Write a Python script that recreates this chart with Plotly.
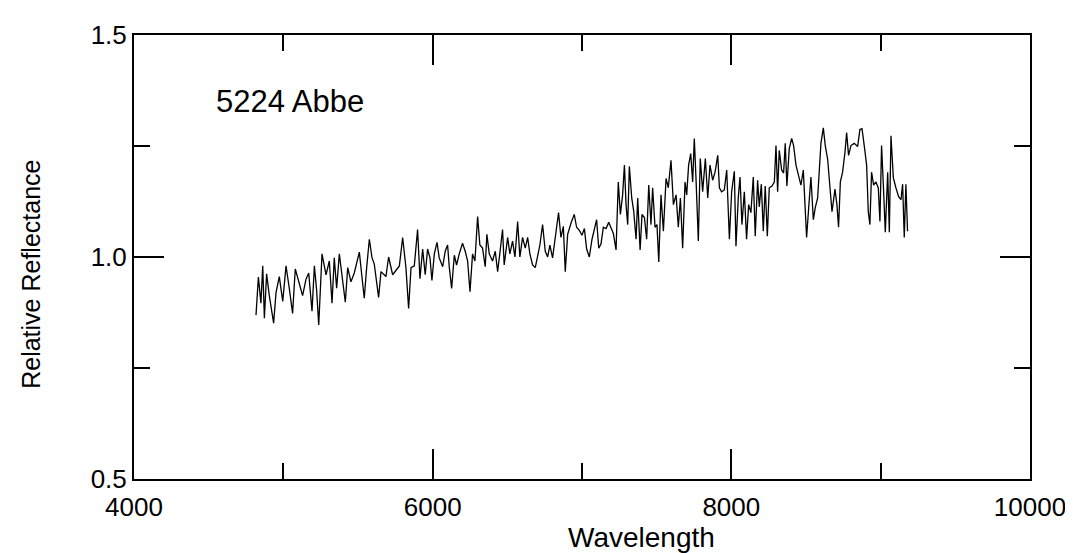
import plotly.graph_objects as go

# Wavelength (Angstrom) and relative reflectance
wavelength = [
    4817, 4833, 4850, 4862, 4873, 4888, 4906, 4935, 4951, 4973, 4996, 5018, 5040, 5062, 5080,
    5107, 5129, 5152, 5170, 5192, 5208, 5223, 5237, 5259, 5286, 5308, 5326, 5341, 5357, 5375,
    5397, 5415, 5431, 5453, 5475, 5509, 5525, 5542, 5558, 5576, 5594, 5609, 5638, 5654, 5687,
    5705, 5732, 5754, 5777, 5799, 5821, 5839, 5855, 5877,
    5899, 5915, 5933, 5950, 5966, 5982, 5995, 6011, 6029, 6044, 6067, 6084, 6100, 6111, 6127,
    6145, 6160, 6178, 6200, 6218, 6234, 6250, 6267, 6283, 6301, 6316, 6334, 6352, 6363, 6379,
    6401, 6419, 6435, 6450, 6468, 6479, 6502, 6517, 6535, 6551, 6569, 6584, 6602, 6620, 6636,
    6651, 6669, 6687, 6703, 6718, 6736, 6754, 6770, 6785, 6803, 6825, 6843, 6859, 6875, 6888,
    6904, 6926, 6948,
    6964, 6982, 7000, 7016, 7031, 7049, 7067, 7083, 7098, 7112, 7127, 7143, 7161, 7179, 7194,
    7210, 7228, 7243, 7257, 7272, 7284, 7295, 7306, 7317, 7333, 7346, 7362, 7373, 7389, 7402,
    7418, 7433, 7447, 7462, 7473, 7489, 7502, 7514, 7529, 7545, 7563, 7578, 7596, 7612, 7630,
    7645, 7659, 7674, 7690, 7701, 7714, 7728, 7741, 7752, 7763, 7779, 7792, 7808, 7826, 7842,
    7857, 7875, 7891, 7909, 7920, 7935, 7953, 7969, 7987, 8002, 8020,
    8031, 8047, 8058, 8071, 8087, 8102, 8116, 8131, 8147, 8160, 8176, 8187, 8201, 8214, 8227,
    8241, 8254, 8272, 8288, 8299, 8310, 8321, 8337, 8350, 8361, 8372, 8388, 8404, 8417, 8433,
    8451, 8466, 8482, 8493, 8504, 8518, 8533, 8549, 8562, 8578, 8589, 8600, 8616, 8629, 8645,
    8660, 8674, 8683, 8694, 8707, 8718, 8730, 8745, 8761, 8772, 8785, 8801, 8823, 8846, 8861,
    8875, 8890, 8906, 8917, 8928, 8939, 8953, 8968, 8984, 8995, 9006, 9018, 9031, 9047, 9058,
    9069, 9085, 9102, 9120, 9136, 9147, 9158, 9169, 9180,
]

reflectance = [
    0.869, 0.955, 0.896, 0.980, 0.862, 0.962, 0.913, 0.851, 0.920, 0.956, 0.900, 0.980, 0.929, 0.873, 0.973,
    0.940, 0.913, 0.950, 0.964, 0.878, 0.980, 0.925, 0.847, 1.007, 0.960, 0.991, 0.896, 0.998, 0.930, 1.007,
    0.944, 0.898, 0.976, 0.944, 0.964, 1.011, 0.960, 0.907, 0.976, 1.040, 0.998, 0.984, 0.909, 0.967, 0.956,
    1.000, 0.960, 0.971, 0.980, 1.044, 0.976, 0.884, 0.976, 0.980,
    1.062, 0.951, 1.018, 0.960, 1.018, 0.998, 0.947, 1.007, 1.033, 0.998, 0.978, 1.013, 1.027, 0.978, 0.929,
    1.004, 0.982, 1.007, 1.031, 1.013, 0.991, 0.922, 1.007, 0.991, 1.091, 1.027, 1.020, 0.978, 1.051, 1.007,
    0.991, 1.013, 0.967, 1.009, 1.062, 0.982, 1.044, 1.007, 1.036, 1.000, 1.080, 1.000, 1.044, 1.020, 1.044,
    1.007, 0.982, 0.976, 1.007, 1.027, 1.073, 1.013, 1.000, 1.027, 0.998, 1.058, 1.100, 1.044, 1.069, 0.967,
    1.051, 1.076, 1.096,
    1.067, 1.060, 1.049, 1.064, 1.018, 1.000, 1.040, 1.060, 1.084, 1.020, 1.029, 1.067, 1.064, 1.078, 1.067,
    1.053, 1.016, 1.169, 1.096, 1.140, 1.207, 1.118, 1.073, 1.204, 1.133, 1.104, 1.040, 1.133, 1.016, 1.096,
    1.089, 1.040, 1.162, 1.073, 1.156, 1.067, 1.073, 0.989, 1.140, 1.058, 1.177, 1.156, 1.218, 1.118, 1.140,
    1.067, 1.133, 1.020, 1.169, 1.140, 1.207, 1.233, 1.169, 1.267, 1.180, 1.036, 1.222, 1.147, 1.222, 1.133,
    1.207, 1.173, 1.191, 1.229, 1.156, 1.147, 1.151, 1.196, 1.040, 1.147, 1.193,
    1.024, 1.136, 1.180, 1.073, 1.147, 1.040, 1.118, 1.100, 1.180, 1.047, 1.173, 1.113, 1.164, 1.058, 1.160,
    1.047, 1.156, 1.160, 1.169, 1.251, 1.147, 1.240, 1.196, 1.189, 1.256, 1.160, 1.244, 1.267, 1.251, 1.207,
    1.184, 1.162, 1.196, 1.133, 1.044, 1.111, 1.180, 1.084, 1.111, 1.133, 1.200, 1.256, 1.291, 1.251, 1.220,
    1.162, 1.102, 1.124, 1.153, 1.118, 1.067, 1.169, 1.191, 1.236, 1.280, 1.229, 1.251, 1.256, 1.249, 1.287,
    1.289, 1.251, 1.207, 1.102, 1.073, 1.191, 1.162, 1.169, 1.156, 1.080, 1.251, 1.162, 1.056, 1.191, 1.056,
    1.273, 1.178, 1.156, 1.136, 1.129, 1.164, 1.044, 1.164, 1.058,
]

x_tickvals = [4000, 6000, 8000, 10000]
x_ticktext = ["4000", "6000", "8000", "10000"]
y_tickvals = [0.5, 1.0, 1.5]
y_ticktext = ["0.5", "1.0", "1.5"]
label_text = "5224 Abbe"
x_title = "Wavelength"
y_title = "Relative Reflectance"

FONT = "Liberation Sans, Arial, sans-serif"

fig = go.Figure()
fig.add_trace(go.Scatter(
    x=wavelength, y=reflectance, mode="lines",
    line=dict(color="black", width=1.3),
    showlegend=False, hoverinfo="skip",
))

fig.add_annotation(
    x=4536, y=1.35, xref="x", yref="y", text=label_text, showarrow=False,
    xanchor="left", yanchor="middle",
    font=dict(family=FONT, size=31, color="black"),
)
# axis titles placed as in the reference (slightly off-centre)
fig.add_annotation(
    x=0.566, y=-0.131, xref="paper", yref="paper", text=x_title, showarrow=False,
    xanchor="center", yanchor="middle",
    font=dict(family=FONT, size=28, color="black"),
)
fig.add_annotation(
    x=-0.115, y=0.462, xref="paper", yref="paper", text=y_title, showarrow=False,
    xanchor="center", yanchor="middle", textangle=-90,
    font=dict(family=FONT, size=25, color="black"),
)

axis_common = dict(
    showline=True, linecolor="black", linewidth=2, mirror="ticks",
    ticks="inside", ticklen=30, tickwidth=1.5, tickcolor="black",
    showgrid=False, zeroline=False,
    tickfont=dict(family=FONT, size=26, color="black"),
)

fig.update_xaxes(
    range=[4000, 10000], tickvals=x_tickvals, ticktext=x_ticktext,
    ticklabelstandoff=4,
    minor=dict(dtick=1000, ticks="inside", ticklen=16, tickwidth=1.5, tickcolor="black", showgrid=False),
    **axis_common,
)
fig.update_yaxes(
    range=[0.5, 1.5], tickvals=y_tickvals, ticktext=y_ticktext,
    minor=dict(dtick=0.25, ticks="inside", ticklen=16, tickwidth=1.5, tickcolor="black", showgrid=False),
    **axis_common,
)

fig.update_layout(
    width=1073, height=553,
    margin=dict(l=126, r=51, t=21, b=82),
    paper_bgcolor="white", plot_bgcolor="white",
)

fig.write_html("out.html")
